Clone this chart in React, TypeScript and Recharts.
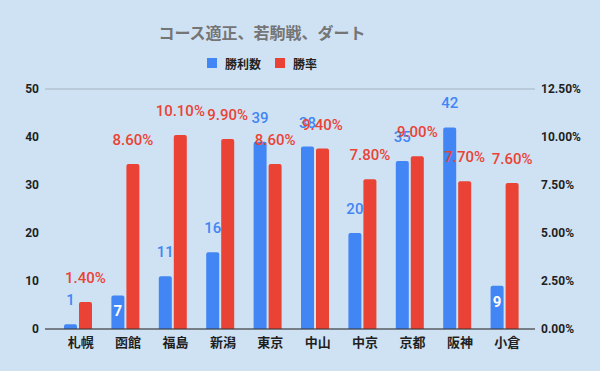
import {
  BarChart,
  Bar,
  XAxis,
  YAxis,
  CartesianGrid,
  LabelList,
} from "recharts";

const venues = ["札幌", "函館", "福島", "新潟", "東京", "中山", "中京", "京都", "阪神", "小倉"];
const wins = [1, 7, 11, 16, 39, 38, 20, 35, 42, 9];
const winRate = [1.4, 8.6, 10.1, 9.9, 8.6, 9.4, 7.8, 9.0, 7.7, 7.6];
const winTicks = [0, 10, 20, 30, 40, 50];
const rateTicks = [0, 2.5, 5, 7.5, 10, 12.5];
// venues whose win count label sits inside the bar
const insideLabels = ["函館", "小倉"];

const BLUE = "#4285f4";
const RED = "#ea4335";
const FONT = "Roboto, 'Noto Sans CJK JP', sans-serif";

const data = venues.map((venue, i) => ({
  venue,
  wins: wins[i],
  rate: winRate[i],
}));

function WinsLabel(props: any) {
  const { x, y, width, value, index } = props;
  const inside = insideLabels.includes(venues[index]);
  return (
    <text
      x={x + width / 2}
      y={inside ? y + 16 : y - 24}
      textAnchor="middle"
      dominantBaseline="central"
      fill={inside ? "#ffffff" : BLUE}
      fontSize={15}
      fontWeight={inside ? 700 : 500}
      fontFamily={FONT}
    >
      {value}
    </text>
  );
}

function RateLabel(props: any) {
  const { x, y, width, value } = props;
  return (
    <text
      x={x + width / 2}
      y={y - 24}
      textAnchor="middle"
      dominantBaseline="central"
      fill={RED}
      fontSize={15}
      fontWeight={500}
      fontFamily={FONT}
    >
      {Number(value).toFixed(2)}%
    </text>
  );
}

const tickStyle = { fontSize: 12, fontWeight: 700, fill: "#1f1f1f", fontFamily: FONT };

export default function App() {
  return (
    <div
      style={{
        position: "absolute",
        left: 0,
        top: 0,
        width: 600,
        height: 371,
        background: "#cfe2f3",
        fontFamily: FONT,
      }}
    >
      <div
        style={{
          position: "absolute",
          top: 20,
          left: 0,
          width: 524,
          textAlign: "center",
          fontSize: 16,
          fontWeight: 700,
          color: "#757575",
        }}
      >
        コース適正、若駒戦、ダート
      </div>
      <div
        style={{
          position: "absolute",
          top: 54,
          left: 207,
          display: "flex",
          alignItems: "center",
          fontSize: 12,
          fontWeight: 700,
          color: "#222",
          height: 18,
        }}
      >
        <span style={{ width: 10, height: 10, background: BLUE, marginRight: 8 }} />
        <span style={{ marginRight: 14 }}>勝利数</span>
        <span style={{ width: 10, height: 10, background: RED, marginRight: 8 }} />
        <span>勝率</span>
      </div>
      <BarChart
        width={600}
        height={371}
        data={data}
        margin={{ top: 89, right: 0, left: 0, bottom: 12 }}
        barSize={13}
        barGap={2}
        style={{ position: "absolute", left: 0, top: 0 }}
      >
        <CartesianGrid vertical={false} stroke="#a3b2c2" />
        <XAxis
          dataKey="venue"
          height={30}
          tickLine={false}
          tickSize={0}
          tickMargin={9}
          dx={3}
          padding={{ left: 9, right: 7 }}
          axisLine={{ stroke: "#333333" }}
          tick={{ ...tickStyle, fontSize: 13 }}
          interval={0}
        />
        <YAxis
          yAxisId="left"
          width={45}
          domain={[0, 50]}
          ticks={winTicks}
          axisLine={false}
          tickLine={false}
          tickSize={0}
          tickMargin={6}
          tick={tickStyle}
        />
        <YAxis
          yAxisId="right"
          orientation="right"
          width={65}
          domain={[0, 12.5]}
          ticks={rateTicks}
          axisLine={false}
          tickLine={false}
          tickSize={0}
          tickMargin={6}
          tick={tickStyle}
          tickFormatter={(v: number) => v.toFixed(2) + "%"}
        />
        <Bar
          yAxisId="left"
          dataKey="wins"
          fill={BLUE}
          radius={[2, 2, 0, 0]}
          isAnimationActive={false}
        >
          <LabelList dataKey="wins" content={WinsLabel} />
        </Bar>
        <Bar
          yAxisId="right"
          dataKey="rate"
          fill={RED}
          radius={[2, 2, 0, 0]}
          isAnimationActive={false}
        >
          <LabelList dataKey="rate" content={RateLabel} />
        </Bar>
      </BarChart>
    </div>
  );
}
